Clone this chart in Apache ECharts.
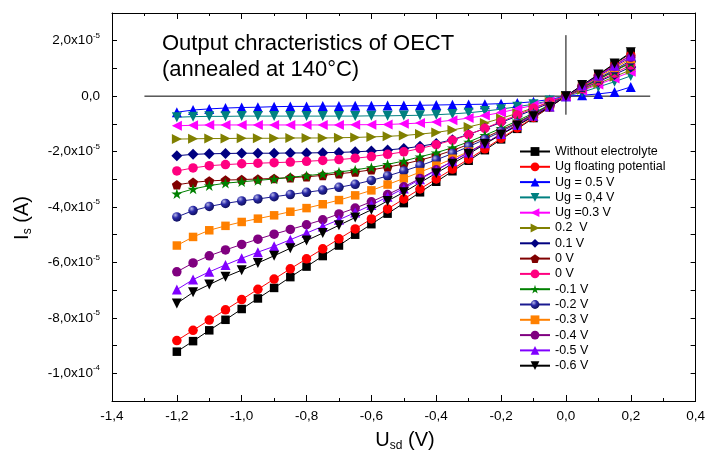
<!DOCTYPE html>
<html>
<head>
<meta charset="utf-8">
<script src="https://cdn.jsdelivr.net/npm/echarts@6/dist/echarts.min.js"></script>
<style>
  html, body { margin: 0; padding: 0; background: #fff; }
  #chart { width: 708px; height: 455px; }
</style>
</head>
<body>
<div id="chart"></div>
<script>
// U_sd (V)
const usd = [-1.2, -1.15, -1.1, -1.05, -1.0, -0.95, -0.9, -0.85, -0.8, -0.75, -0.7, -0.65, -0.6, -0.55, -0.5,
  -0.45, -0.4, -0.35, -0.3, -0.25, -0.2, -0.15, -0.1, -0.05, 0, 0.05, 0.1, 0.15, 0.2];

// I_s in units of 1e-5 A
const noElectrolyte = [-9.22, -8.84, -8.45, -8.07, -7.68, -7.30, -6.92, -6.53, -6.15, -5.77, -5.39, -5.00, -4.62, -4.24, -3.86,
  -3.47, -3.09, -2.71, -2.33, -1.95, -1.56, -1.18, -0.79, -0.40, 0, 0.38, 0.77, 1.16, 1.55];
const ugFloating = [-8.82, -8.45, -8.08, -7.71, -7.34, -6.97, -6.60, -6.23, -5.87, -5.51, -5.15, -4.79, -4.43, -4.07, -3.71,
  -3.35, -2.99, -2.63, -2.27, -1.90, -1.52, -1.15, -0.77, -0.39, 0, 0.37, 0.75, 1.12, 1.48];
const ug05 = [-0.58, -0.50, -0.46, -0.43, -0.41, -0.40, -0.38, -0.37, -0.37, -0.36, -0.36, -0.35, -0.35, -0.34, -0.34,
  -0.33, -0.32, -0.31, -0.30, -0.29, -0.27, -0.25, -0.20, -0.12, 0, 0.03, 0.08, 0.15, 0.33];
const ug04 = [-0.76, -0.74, -0.73, -0.73, -0.72, -0.72, -0.72, -0.72, -0.72, -0.72, -0.72, -0.72, -0.71, -0.71, -0.70,
  -0.69, -0.67, -0.64, -0.60, -0.54, -0.47, -0.38, -0.29, -0.16, 0, 0.14, 0.33, 0.52, 0.73];
const ug03 = [-1.07, -1.05, -1.04, -1.04, -1.04, -1.04, -1.04, -1.04, -1.04, -1.04, -1.04, -1.03, -1.03, -1.02, -1.00,
  -0.97, -0.93, -0.87, -0.79, -0.70, -0.59, -0.46, -0.33, -0.18, 0, 0.20, 0.42, 0.64, 0.88];
const ug02 = [-1.55, -1.54, -1.53, -1.53, -1.52, -1.52, -1.52, -1.51, -1.51, -1.51, -1.50, -1.49, -1.47, -1.45, -1.42,
  -1.37, -1.31, -1.22, -1.11, -0.97, -0.80, -0.62, -0.42, -0.21, 0, 0.23, 0.46, 0.70, 0.95];
const ug01 = [-2.15, -2.10, -2.08, -2.07, -2.06, -2.06, -2.06, -2.05, -2.05, -2.04, -2.03, -2.01, -1.98, -1.94, -1.89,
  -1.81, -1.71, -1.57, -1.38, -1.17, -0.95, -0.72, -0.49, -0.25, 0, 0.26, 0.52, 0.78, 1.05];
const ug0a = [-3.20, -3.11, -3.06, -3.03, -3.01, -2.99, -2.97, -2.94, -2.91, -2.86, -2.80, -2.74, -2.66, -2.56, -2.45,
  -2.31, -2.15, -1.96, -1.74, -1.50, -1.23, -0.95, -0.65, -0.33, 0, 0.30, 0.61, 0.92, 1.23];
const ug0b = [-2.70, -2.59, -2.51, -2.47, -2.44, -2.42, -2.40, -2.38, -2.35, -2.32, -2.29, -2.24, -2.18, -2.10, -2.01,
  -1.89, -1.75, -1.59, -1.39, -1.16, -0.92, -0.68, -0.44, -0.21, 0, 0.27, 0.55, 0.83, 1.12];
const ugm01 = [-3.52, -3.35, -3.23, -3.14, -3.09, -3.04, -2.99, -2.93, -2.87, -2.81, -2.74, -2.66, -2.57, -2.46, -2.34,
  -2.19, -2.04, -1.86, -1.65, -1.41, -1.16, -0.89, -0.61, -0.31, 0, 0.30, 0.60, 0.90, 1.20];
const ugm02 = [-4.36, -4.13, -3.98, -3.87, -3.78, -3.71, -3.63, -3.55, -3.47, -3.39, -3.29, -3.18, -3.04, -2.88, -2.70,
  -2.51, -2.30, -2.07, -1.82, -1.56, -1.28, -0.98, -0.66, -0.34, 0, 0.32, 0.64, 0.96, 1.28];
const ugm03 = [-5.39, -5.08, -4.84, -4.68, -4.54, -4.42, -4.30, -4.17, -4.04, -3.90, -3.75, -3.58, -3.40, -3.19, -2.97,
  -2.74, -2.51, -2.26, -2.00, -1.70, -1.38, -1.03, -0.69, -0.35, 0, 0.34, 0.68, 1.02, 1.34];
const ugm04 = [-6.34, -6.02, -5.76, -5.55, -5.35, -5.16, -4.98, -4.81, -4.64, -4.46, -4.25, -4.04, -3.81, -3.55, -3.27,
  -2.97, -2.66, -2.35, -2.03, -1.70, -1.37, -1.03, -0.69, -0.35, 0, 0.36, 0.72, 1.07, 1.40];
const ugm05 = [-6.98, -6.62, -6.34, -6.09, -5.85, -5.63, -5.42, -5.18, -4.94, -4.70, -4.46, -4.20, -3.93, -3.63, -3.33,
  -3.00, -2.68, -2.35, -2.03, -1.70, -1.37, -1.04, -0.71, -0.37, 0, 0.38, 0.74, 1.10, 1.46];
const ugm06 = [-7.48, -7.08, -6.80, -6.52, -6.28, -6.02, -5.76, -5.49, -5.21, -4.94, -4.66, -4.38, -4.10, -3.78, -3.47,
  -3.12, -2.78, -2.44, -2.09, -1.73, -1.39, -1.06, -0.73, -0.39, 0, 0.40, 0.78, 1.18, 1.58];

const seriesNames = ['Without electrolyte', 'Ug floating potential', 'Ug = 0.5 V', 'Ug = 0,4 V', 'Ug =0.3 V',
  '0.2  V', '0.1 V', '0 V', '0 V ', '-0.1 V', '-0.2 V', '-0.3 V', '-0.4 V', '-0.5 V', '-0.6 V'];
const seriesData = [noElectrolyte, ugFloating, ug05, ug04, ug03, ug02, ug01, ug0a, ug0b,
  ugm01, ugm02, ugm03, ugm04, ugm05, ugm06];

// reference cross lines
const zeroLineX = [-1.3, 0.26];
const zeroLineY = [2.2, -0.67];

const pentagon = 'path://M0,-1L0.951,-0.309L0.588,0.809L-0.588,0.809L-0.951,-0.309Z';
const star = 'path://M0,-1L0.225,-0.309L0.951,-0.309L0.363,0.118L0.588,0.809L0,0.382L-0.588,0.809L-0.363,0.118L-0.951,-0.309L-0.225,-0.309Z';

const sphere = new echarts.graphic.RadialGradient(0.35, 0.3, 0.7, [
  { offset: 0, color: '#b8b8e8' }, { offset: 0.45, color: '#2a2aa8' }, { offset: 1, color: '#101060' }
]);

const styles = [
  { color: '#000000', symbol: 'rect', size: 8.5 },
  { color: '#ff0000', symbol: 'circle', size: 9.5 },
  { color: '#0000ff', symbol: 'triangle', size: 10 },
  { color: '#008080', symbol: 'triangle', size: 10, rotate: 180 },
  { color: '#ff00ff', symbol: 'triangle', size: 10, rotate: 90 },
  { color: '#808000', symbol: 'triangle', size: 10, rotate: -90 },
  { color: '#000080', symbol: 'diamond', size: 11 },
  { color: '#800000', symbol: pentagon, size: 10 },
  { color: '#ff0080', symbol: 'circle', size: 9.5 },
  { color: '#008000', symbol: star, size: 11 },
  { color: '#1a1a90', fill: sphere, symbol: 'circle', size: 9.5 },
  { color: '#ff8000', symbol: 'rect', size: 8.5 },
  { color: '#800080', symbol: 'circle', size: 9.5 },
  { color: '#8000ff', symbol: 'triangle', size: 10 },
  { color: '#000000', symbol: 'triangle', size: 10, rotate: 180 }
];

const font = 'Liberation Sans';

let series = seriesData.map((ys, i) => {
  let s = styles[i];
  return {
    name: seriesNames[i],
    type: 'line',
    data: usd.map((x, j) => [x, ys[j]]),
    symbol: s.symbol,
    symbolSize: s.size,
    symbolRotate: s.rotate || 0,
    symbolKeepAspect: true,
    lineStyle: { color: s.color, width: 1 },
    itemStyle: { color: s.fill || s.color, borderWidth: 0 },
    emphasis: { disabled: true },
    animation: false,
    z: 3
  };
});

series.push({
  type: 'line', silent: true, symbol: 'none', animation: false, z: 2,
  data: zeroLineX.map(x => [x, 0]),
  lineStyle: { color: '#000', width: 1 }
});
series.push({
  type: 'line', silent: true, symbol: 'none', animation: false, z: 2,
  data: zeroLineY.map(y => [0, y]),
  lineStyle: { color: '#000', width: 1 }
});

function yLabel(v) {
  let n = Math.round(v);
  if (n % 2 !== 0) return '';
  if (n === 0) return '{b|0,0}';
  if (n === -10) return '{b|-1,0x10}{s|-4}';
  return '{b|' + n.toFixed(1).replace('.', ',') + 'x10}{s|-5}';
}

let chart = echarts.init(document.getElementById('chart'));
chart.setOption({
  backgroundColor: '#fff',
  animation: false,
  textStyle: { fontFamily: font },
  grid: { left: 112, right: 12, top: 13, bottom: 54 },
  legend: {
    data: seriesNames,
    orient: 'vertical',
    left: 519,
    top: 145,
    padding: 0,
    itemWidth: 30,
    itemHeight: 11,
    itemGap: 2.3,
    textStyle: { fontFamily: font, fontSize: 12.5, color: '#000' },
    inactiveColor: '#000',
    selectedMode: false
  },
  xAxis: [{
    type: 'value', min: -1.4, max: 0.4, interval: 0.2,
    axisLine: { onZero: false, lineStyle: { color: '#000', width: 1 } },
    axisTick: { inside: true, length: 6, lineStyle: { color: '#000' } },
    minorTick: { show: true, splitNumber: 2, length: 3, lineStyle: { color: '#000' } },
    splitLine: { show: false },
    axisLabel: {
      color: '#000', fontSize: 13.5, margin: 8, fontFamily: font,
      formatter: v => v.toFixed(1).replace('.', ',')
    }
  }, {
    type: 'value', position: 'top', min: -1.4, max: 0.4, interval: 0.2,
    axisLine: { onZero: false, lineStyle: { color: '#000', width: 1 } },
    axisTick: { inside: true, length: 6, lineStyle: { color: '#000' } },
    minorTick: { show: true, splitNumber: 2, length: 3, lineStyle: { color: '#000' } },
    splitLine: { show: false },
    axisLabel: { show: false }
  }],
  yAxis: [{
    type: 'value', min: -11, max: 3, interval: 1,
    axisLine: { onZero: false, lineStyle: { color: '#000', width: 1 } },
    axisTick: { inside: true, length: 5, lineStyle: { color: '#000' } },
    splitLine: { show: false },
    axisLabel: {
      margin: 12, formatter: yLabel,
      rich: {
        b: { fontFamily: font, fontSize: 13.5, color: '#000', lineHeight: 18, verticalAlign: 'middle' },
        s: { fontFamily: font, fontSize: 8, color: '#000', lineHeight: 8, verticalAlign: 'top' }
      }
    }
  }, {
    type: 'value', position: 'right', min: -11, max: 3, interval: 1,
    axisLine: { onZero: false, lineStyle: { color: '#000', width: 1 } },
    axisTick: { inside: true, length: 5, lineStyle: { color: '#000' } },
    splitLine: { show: false },
    axisLabel: { show: false }
  }],
  graphic: [{
    type: 'text', left: 162, top: 31,
    style: {
      text: 'Output chracteristics of OECT\n(annealed at 140°C)',
      font: '22px ' + font, fill: '#000', lineHeight: 26
    }
  }, {
    type: 'text', x: 405, y: 440,
    style: {
      text: '{a|U}{s|sd}{a| (V)}', align: 'center', verticalAlign: 'middle',
      rich: {
        a: { fontFamily: font, fontSize: 20, fill: '#000', lineHeight: 24, verticalAlign: 'middle' },
        s: { fontFamily: font, fontSize: 12, fill: '#000', lineHeight: 12, verticalAlign: 'bottom' }
      }
    }
  }, {
    type: 'text', x: 22, y: 218, rotation: Math.PI / 2,
    style: {
      text: '{a|I}{s|s}{a| (A)}', align: 'center', verticalAlign: 'middle',
      rich: {
        a: { fontFamily: font, fontSize: 20, fill: '#000', lineHeight: 24, verticalAlign: 'middle' },
        s: { fontFamily: font, fontSize: 12, fill: '#000', lineHeight: 12, verticalAlign: 'bottom' }
      }
    }
  }],
  series: series
});
</script>
</body>
</html>
